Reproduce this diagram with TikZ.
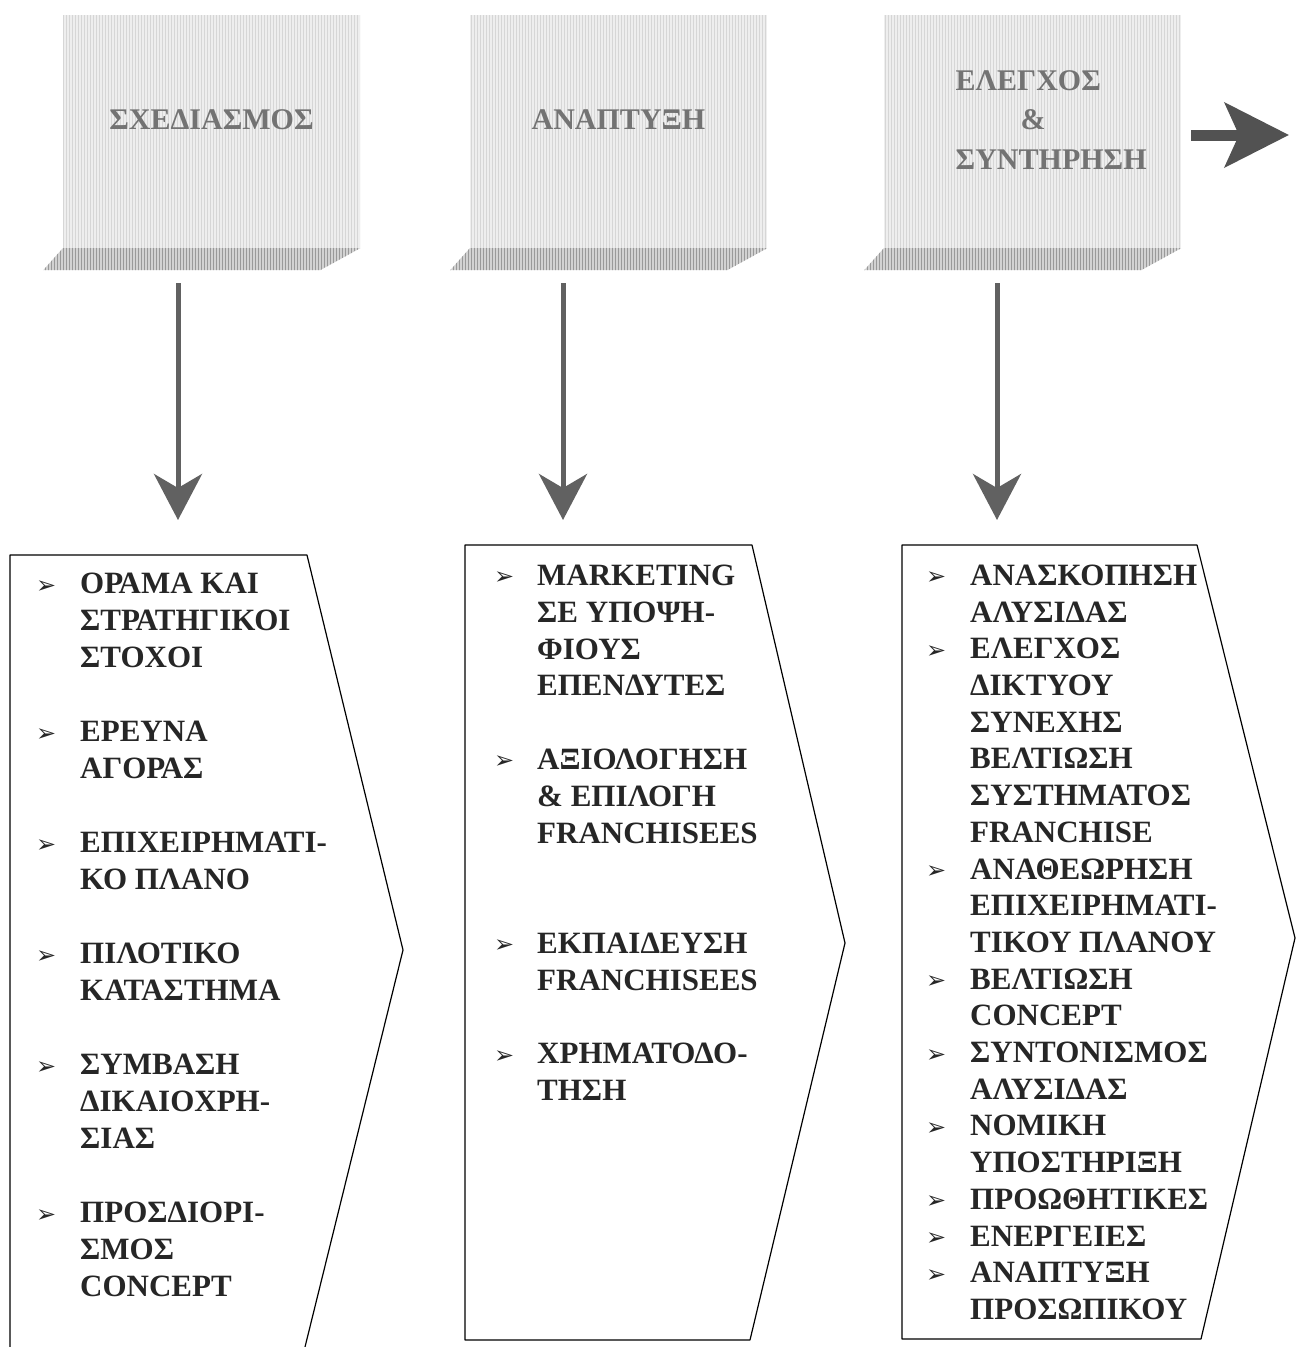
\documentclass[tikz,border=0pt]{standalone}
\usepackage{fontspec}
\setmainfont{Liberation Serif}
\newfontfamily\symfont{DejaVu Sans}
\usetikzlibrary{arrows.meta,patterns}

\newcommand{\bul}{\raisebox{0.5pt}{\symfont\fontsize{24}{24}\selectfont ➢}}

\tikzset{
  face/.style={fill=gray!13,postaction={pattern=vertical lines,pattern color=gray!32},
    minimum width=297pt,minimum height=233pt,inner sep=0pt},
  strip/.style={fill=gray!35,postaction={pattern=vertical lines,pattern color=gray!80}},
  htxt/.style={text=black!55,font=\bfseries\fontsize{30}{39.5}\selectfont,inner sep=0pt},
  darr/.style={draw=black!62,line width=5pt,-{Stealth[length=46pt,width=48pt,inset=14pt]}},
  rarr/.style={draw=black!68,line width=11pt,-{Stealth[length=64pt,width=64pt,inset=14pt]}},
  lst/.style={anchor=north west,inner sep=0pt,text=black!85},
  box/.style={draw=black,line width=1.2pt,line join=round}
}

\begin{document}
\begin{tikzpicture}[x=1pt,y=-1pt]
  \useasboundingbox (0,0) rectangle (1298,1347);

  % the three stages
  \foreach \i/\x in {1/211.5,2/618.5,3/1032.5}{
    \node[face] (hd\i) at (\x,131.5) {};
    \fill[strip] (hd\i.south west) -- (hd\i.south east) -- ++(-40,22) -- ++(-277,0) -- cycle;
  }
  \node[htxt] (ht1) at ([yshift=11.5pt]hd1.center) {ΣΧΕΔΙΑΣΜΟΣ};
  \node[htxt] (ht2) at ([yshift=11.5pt]hd2.center) {ΑΝΑΠΤΥΞΗ};
  \node[htxt,align=left,anchor=west] (ht3) at ([xshift=-77pt,yshift=11.5pt]hd3.center)
    {ΕΛΕΓΧΟΣ\\ \hspace*{65pt}\&\\ΣΥΝΤΗΡΗΣΗ};

  \coordinate (nx) at (1289,135);
  \draw[rarr,shorten <=10pt] (hd3.east |- nx) -- (nx);

  % arrows down to the lists
  \foreach \i/\x in {1/178,2/563,3/997}{
    \coordinate (d\i) at (\x,520);
    \draw[darr,shorten <=35pt] (hd\i.south -| d\i) -- (d\i);
  }

  % list outlines
  \draw[box] (10,1347) -- (10,555) -- (307,555) -- (403,950) -- (305,1347);
  \draw[box] (465,545) -- (752,545) -- (845,943) -- (750,1340) -- (465,1340) -- cycle;
  \draw[box] (902,545) -- (1197,545) -- (1295,938) -- (1201,1339) -- (902,1339) -- cycle;

  \node[lst,font=\bfseries\fontsize{31}{37}\selectfont] (ls1) at (36,567.4) {%
    \begin{tabular}{@{}p{44pt}@{}l@{}}
      \bul & ΟΡΑΜΑ ΚΑΙ\\
           & ΣΤΡΑΤΗΓΙΚΟΙ\\
           & ΣΤΟΧΟΙ\\
           & \\
      \bul & ΕΡΕΥΝΑ\\
           & ΑΓΟΡΑΣ\\
           & \\
      \bul & ΕΠΙΧΕΙΡΗΜΑΤΙ-\\
           & ΚΟ ΠΛΑΝΟ\\
           & \\
      \bul & ΠΙΛΟΤΙΚΟ\\
           & ΚΑΤΑΣΤΗΜΑ\\
           & \\
      \bul & ΣΥΜΒΑΣΗ\\
           & ΔΙΚΑΙΟΧΡΗ-\\
           & ΣΙΑΣ\\
           & \\
      \bul & ΠΡΟΣΔΙΟΡΙ-\\
           & ΣΜΟΣ\\
           & CONCEPT
    \end{tabular}};

  \node[lst,font=\bfseries\fontsize{31}{36.8}\selectfont] (ls2) at (494,559.5) {%
    \begin{tabular}{@{}p{43pt}@{}l@{}}
      \bul & MARKETING\\
           & ΣΕ ΥΠΟΨΗ-\\
           & ΦΙΟΥΣ\\
           & ΕΠΕΝΔΥΤΕΣ\\
           & \\
      \bul & ΑΞΙΟΛΟΓΗΣΗ\\
           & \& ΕΠΙΛΟΓΗ\\
           & FRANCHISEES\\
           & \\
           & \\
      \bul & ΕΚΠΑΙΔΕΥΣΗ\\
           & FRANCHISEES\\
           & \\
      \bul & ΧΡΗΜΑΤΟΔΟ-\\
           & ΤΗΣΗ
    \end{tabular}};

  \node[lst,font=\bfseries\fontsize{31}{36.7}\selectfont] (ls3) at (926,559.5) {%
    \begin{tabular}{@{}p{44pt}@{}l@{}}
      \bul & ΑΝΑΣΚΟΠΗΣΗ\\
           & ΑΛΥΣΙΔΑΣ\\
      \bul & ΕΛΕΓΧΟΣ\\
           & ΔΙΚΤΥΟΥ\\
           & ΣΥΝΕΧΗΣ\\
           & ΒΕΛΤΙΩΣΗ\\
           & ΣΥΣΤΗΜΑΤΟΣ\\
           & FRANCHISE\\
      \bul & ΑΝΑΘΕΩΡΗΣΗ\\
           & ΕΠΙΧΕΙΡΗΜΑΤΙ-\\
           & ΤΙΚΟΥ ΠΛΑΝΟΥ\\
      \bul & ΒΕΛΤΙΩΣΗ\\
           & CONCEPT\\
      \bul & ΣΥΝΤΟΝΙΣΜΟΣ\\
           & ΑΛΥΣΙΔΑΣ\\
      \bul & ΝΟΜΙΚΗ\\
           & ΥΠΟΣΤΗΡΙΞΗ\\
      \bul & ΠΡΟΩΘΗΤΙΚΕΣ\\
      \bul & ΕΝΕΡΓΕΙΕΣ\\
      \bul & ΑΝΑΠΤΥΞΗ\\
           & ΠΡΟΣΩΠΙΚΟΥ
    \end{tabular}};
\end{tikzpicture}
\end{document}
